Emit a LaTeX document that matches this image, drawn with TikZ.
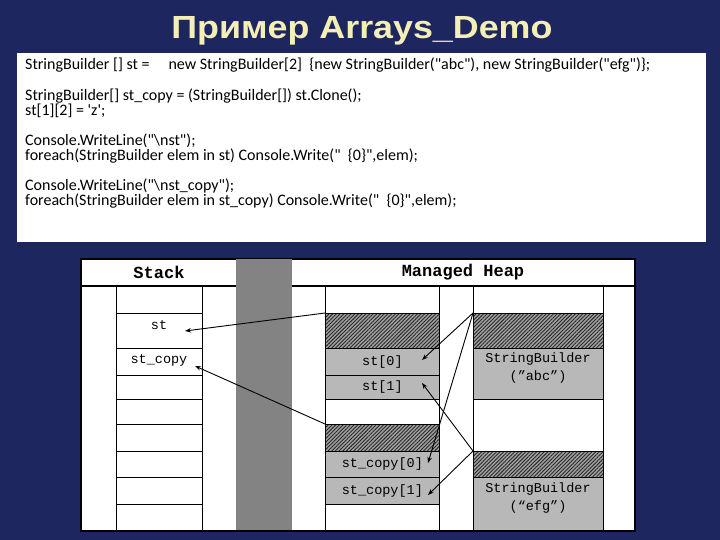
\documentclass[tikz,border=0pt]{standalone}
\usepackage{fontspec}
\setmainfont{Carlito}
\newfontfamily\codefont{Carlito}[Ligatures=TeXOff]
\newfontfamily\titlefont{Liberation Sans}
\newfontfamily\monofont{Liberation Mono}
\usetikzlibrary{patterns.meta,arrows.meta}
\definecolor{navy}{HTML}{1E2660}
\definecolor{titlecol}{HTML}{F4EFB6}
\definecolor{colgray}{HTML}{838383}
\definecolor{cellgray}{HTML}{B8B8B8}
\definecolor{hatchbg}{HTML}{A0A0A0}
\definecolor{hatchln}{HTML}{282828}
\begin{document}
\begin{tikzpicture}[x=1pt,y=-1pt,
  codeline/.style={anchor=base west,inner sep=0pt,font=\codefont\fontsize{16}{15}\selectfont},
  cell/.style={draw=black,line width=0.8pt,rectangle,anchor=north west,inner sep=0pt,minimum width=#1},
  wcell/.style={cell=#1,fill=white},
  gcell/.style={cell=#1,fill=cellgray,font=\monofont\fontsize{13.5}{15}\selectfont},
  hcell/.style={cell=#1,preaction={fill=hatchbg},pattern={Lines[angle=45,distance=2.6pt,line width=0.9pt]},pattern color=hatchln},
  lbl/.style={font=\monofont\fontsize{13.5}{18}\selectfont,inner sep=0pt,align=center},
  hdr/.style={font=\monofont\bfseries\fontsize{17}{18}\selectfont,inner sep=0pt},
  ptr/.style={-{Stealth[length=6pt,width=4.5pt]},line width=0.9pt,black}]
\useasboundingbox (0,0) rectangle (720,540);
\fill[navy] (0,0) rectangle (720,540);
% title
\node[font=\titlefont\bfseries\fontsize{32}{36}\selectfont,text=titlecol,inner sep=0pt,xscale=1.12] (title) at (362,31) {Пример Arrays\_Demo};
% code box
\node[fill=white,draw=none,anchor=north west,minimum width=689pt,minimum height=189pt,inner sep=0pt] (code) at (17,53) {};
\node[codeline] (l1) at (25,70) {StringBuilder [] st =\hspace*{19pt}new StringBuilder[2]\ \ \{new StringBuilder("abc"), new StringBuilder("efg")\};};
\node[codeline] (l2) at (25,101) {StringBuilder[] st\_copy = (StringBuilder[]) st.Clone();};
\node[codeline] (l3) at (25,116) {st[1][2] = 'z';};
\node[codeline] (l4) at (25,146) {Console.WriteLine("\textbackslash nst");};
\node[codeline] (l5) at (25,161) {foreach(StringBuilder elem in st) Console.Write("\ \ \{0\}",elem);};
\node[codeline] (l6) at (25,191) {Console.WriteLine("\textbackslash nst\_copy");};
\node[codeline] (l7) at (25,206) {foreach(StringBuilder elem in st\_copy) Console.Write("\ \ \{0\}",elem);};
% diagram frame
\node[fill=white,draw=black,line width=1.8pt,anchor=north west,minimum width=554pt,minimum height=272pt,inner sep=0pt] (frame) at (80,258) {};
\draw[line width=1.2pt] (frame.west |- 0,286) coordinate (hl) -- (frame.east |- 0,286) coordinate (hr);
\node[fill=colgray,draw=none,anchor=north west,minimum width=56pt,minimum height=270.5pt,inner sep=0pt] (gcol) at (236,258.9) {};
\node[hdr] (hstack) at (159,272) {Stack};
\node[hdr] (hheap) at (463,272) {Managed Heap};
% stack column
\node[wcell=86pt,minimum height=27pt] (s0) at (116,286) {};
\node[wcell=86pt,minimum height=35pt] (s1) at (116,313) {};
\node[wcell=86pt,minimum height=27pt] (s2) at (116,348) {};
\node[wcell=86pt,minimum height=24pt] (s3) at (116,375) {};
\node[wcell=86pt,minimum height=25pt] (s4) at (116,399) {};
\node[wcell=86pt,minimum height=27pt] (s5) at (116,424) {};
\node[wcell=86pt,minimum height=26pt] (s6) at (116,451) {};
\node[wcell=86pt,minimum height=27pt] (s7) at (116,477) {};
\node[wcell=86pt,minimum height=26pt] (s8) at (116,504) {};
\node[lbl] (tst) at (159,325) {st};
\node[lbl] (tstc) at (159,360) {st\_copy};
% heap column 1
\node[wcell=114pt,minimum height=27pt] (a0) at (325,286) {};
\node[hcell=114pt,minimum height=35pt] (a1) at (325,313) {};
\node[gcell=114pt,minimum height=27pt] (st0) at (325,348) {st[0]};
\node[gcell=114pt,minimum height=24pt] (st1) at (325,375) {st[1]};
\node[wcell=114pt,minimum height=25pt] (a4) at (325,399) {};
\node[hcell=114pt,minimum height=27pt] (a5) at (325,424) {};
\node[gcell=114pt,minimum height=26pt] (cp0) at (325,451) {st\_copy[0]};
\node[gcell=114pt,minimum height=27pt] (cp1) at (325,477) {st\_copy[1]};
\node[wcell=114pt,minimum height=26pt] (a8) at (325,504) {};
% heap column 2
\node[wcell=130pt,minimum height=27pt] (b0) at (473,286) {};
\node[hcell=130pt,minimum height=35pt] (b1) at (473,313) {};
\node[gcell=130pt,minimum height=51pt] (abc) at (473,348) {};
\node[wcell=130pt,minimum height=52pt] (b3) at (473,399) {};
\node[hcell=130pt,minimum height=26pt] (b4) at (473,451) {};
\node[gcell=130pt,minimum height=53pt] (efg) at (473,477) {};
\node[lbl] (tabc) at (538,368) {StringBuilder\\(”abc”)};
\node[lbl] (tefg) at (538,498) {StringBuilder\\(“efg”)};
% pointer ends
\coordinate (pst) at (185,331);
\coordinate (pcp) at (195,366);
\coordinate (p0) at (422,360);
\coordinate (p1) at (422,383);
\coordinate (q0) at (428,463);
\coordinate (q1) at (428,495);
\draw[ptr] (a1.north west) -- (pst);
\draw[ptr] (a5.north west) -- (pcp);
\draw[ptr] (b1.north west) -- (p0);
\draw[ptr] (b1.north west) -- (q0);
\draw[ptr] (b4.north west) -- (p1);
\draw[ptr] (b4.north west) -- (q1);
\end{tikzpicture}
\end{document}
